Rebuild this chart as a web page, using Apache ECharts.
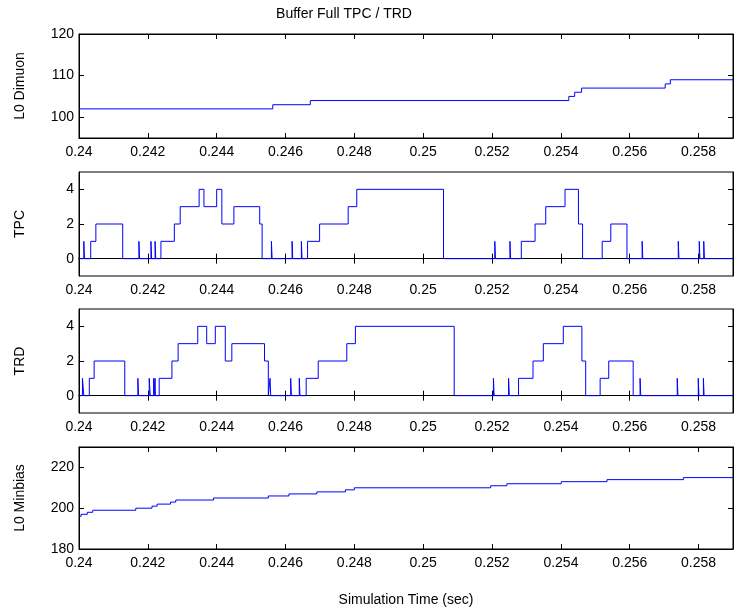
<!DOCTYPE html>
<html>
<head>
<meta charset="utf-8">
<script src="https://cdn.jsdelivr.net/npm/echarts@6/dist/echarts.min.js"></script>
<style>
  html, body { margin: 0; padding: 0; background: #fff; }
  #chart { width: 735px; height: 608px; }
</style>
</head>
<body>
<div id="chart"></div>
<script>
// x ticks shared by every panel
let xTicks = [0.24, 0.242, 0.244, 0.246, 0.248, 0.25, 0.252, 0.254, 0.256, 0.258]

// L0 Dimuon
let dimuonT = [0.24, 0.24563, 0.24672, 0.25423, 0.25440, 0.25460, 0.25703, 0.25718, 0.259]
let dimuonV = [102, 103, 104, 105, 106, 107, 108, 109, 109]
let dimuonTicks = [100, 110, 120]

// TPC
let tpcT = [0.24, 0.24014, 0.24016, 0.24034, 0.24049, 0.24127, 0.24174, 0.24176, 0.24209, 0.24211,
  0.24221, 0.24223, 0.24238, 0.24277, 0.24294, 0.24349, 0.24363, 0.24400, 0.24415, 0.24450,
  0.24525, 0.24532, 0.24559, 0.24561, 0.24619, 0.24621, 0.24646, 0.24648, 0.24664, 0.24699,
  0.24782, 0.24807, 0.25059, 0.25208, 0.25210, 0.25252, 0.25254, 0.25285, 0.25325, 0.25356,
  0.25412, 0.25451, 0.25463, 0.25520, 0.25545, 0.25592, 0.25636, 0.25638, 0.25741, 0.25743,
  0.25802, 0.25804, 0.25815, 0.25817, 0.259]
let tpcV = [0, 1, 0, 1, 2, 0, 1, 0, 1, 0,
  1, 0, 1, 2, 3, 4, 3, 4, 2, 3,
  2, 0, 1, 0, 1, 0, 1, 0, 1, 2,
  3, 4, 0, 1, 0, 1, 0, 1, 2, 3,
  4, 2, 0, 1, 2, 0, 1, 0, 1, 0,
  1, 0, 1, 0, 0]

// TRD
let trdT = [0.24, 0.24010, 0.24014, 0.24030, 0.24044, 0.24133, 0.24171, 0.24173, 0.24204, 0.24207,
  0.24217, 0.24218, 0.24221, 0.24222, 0.24233, 0.24270, 0.24288, 0.24345, 0.24371, 0.24396,
  0.24425, 0.24444, 0.24539, 0.24550, 0.24555, 0.24557, 0.24615, 0.24617, 0.24640, 0.24642,
  0.24660, 0.24695, 0.24778, 0.24803, 0.25090, 0.25204, 0.25206, 0.25248, 0.25250, 0.25277,
  0.25319, 0.25349, 0.25407, 0.25461, 0.25472, 0.25514, 0.25539, 0.25610, 0.25630, 0.25632,
  0.25738, 0.25740, 0.25799, 0.25801, 0.25814, 0.25816, 0.259]
let trdV = [0, 1, 0, 1, 2, 0, 1, 0, 1, 0,
  1, 0, 1, 0, 1, 2, 3, 4, 3, 4,
  2, 3, 2, 0, 1, 0, 1, 0, 1, 0,
  1, 2, 3, 4, 0, 1, 0, 1, 0, 1,
  2, 3, 4, 2, 0, 1, 2, 0, 1, 0,
  1, 0, 1, 0, 1, 0, 0]
let bufTicks = [0, 2, 4]

// L0 Minbias
let mbT = [0.24, 0.24006, 0.24024, 0.24040, 0.24165, 0.24212, 0.24227, 0.24266, 0.24281, 0.24391,
  0.24550, 0.24610, 0.24691, 0.24774, 0.24800, 0.25196, 0.25243, 0.25401, 0.25534, 0.25756, 0.259]
let mbV = [196, 197, 198, 199, 200, 201, 202, 203, 204, 205,
  206, 207, 208, 209, 210, 211, 212, 213, 214, 215, 215]
let mbTicks = [180, 200, 220]

let font = 'Liberation Sans, Arial, Helvetica, sans-serif'
let panels = [
  { name: 'L0 Dimuon', t: dimuonT, v: dimuonV, min: 95, max: 120, ticks: dimuonTicks, top: 34 },
  { name: 'TPC', t: tpcT, v: tpcV, min: -1, max: 5, ticks: bufTicks, top: 172 },
  { name: 'TRD', t: trdT, v: trdV, min: -1, max: 5, ticks: bufTicks, top: 309 },
  { name: 'L0 Minbias', t: mbT, v: mbV, min: 180, max: 230, ticks: mbTicks, top: 447 }
]

function pairs(t, v) {
  return t.map(function (x, i) { return [x, v[i]] })
}

let grid = []
let xAxis = []
let yAxis = []
let series = []
panels.forEach(function (p, k) {
  grid.push({ left: 79, right: 2, top: p.top, height: 104, show: true, borderColor: '#000', borderWidth: 1 })
  let last = k === panels.length - 1
  let xBase = {
    type: 'value', gridIndex: k, min: 0.24, max: 0.259,
    axisLine: { show: true, lineStyle: { color: '#000', width: 1 } },
    axisTick: { show: true, inside: true, length: 5, customValues: xTicks, lineStyle: { color: '#000' } },
    splitLine: { show: false }
  }
  xAxis.push(Object.assign({}, xBase, {
    position: 'bottom',
    axisLabel: {
      show: true, customValues: xTicks, color: '#000', fontSize: 14, fontFamily: font, margin: 7,
      formatter: function (val) { return String(Number(val.toFixed(3))) }
    },
    name: last ? 'Simulation Time (sec)' : '',
    nameLocation: 'middle', nameGap: 44,
    nameTextStyle: { color: '#000', fontSize: 14, fontFamily: font }
  }))
  xAxis.push(Object.assign({}, xBase, { position: 'top', axisLabel: { show: false } }))
  let yBase = {
    type: 'value', gridIndex: k, min: p.min, max: p.max,
    axisLine: { show: true, lineStyle: { color: '#000', width: 1 } },
    axisTick: { show: true, inside: true, length: 5, customValues: p.ticks, lineStyle: { color: '#000' } },
    splitLine: { show: false }
  }
  yAxis.push(Object.assign({}, yBase, {
    position: 'left',
    axisLabel: { show: true, customValues: p.ticks, color: '#000', fontSize: 14, fontFamily: font, margin: 5 },
    name: p.name, nameLocation: 'middle', nameRotate: 90, nameGap: 52,
    nameTextStyle: { color: '#000', fontSize: 14, fontFamily: font }
  }))
  yAxis.push(Object.assign({}, yBase, { position: 'right', axisLabel: { show: false } }))
  series.push({
    type: 'line', xAxisIndex: 2 * k, yAxisIndex: 2 * k,
    data: pairs(p.t, p.v), step: 'end', showSymbol: false, symbol: 'none',
    lineStyle: { color: '#0000ff', width: 1 }, animation: false
  })
})

let myChart = echarts.init(document.getElementById('chart'))
myChart.setOption({
  backgroundColor: '#fff',
  animation: false,
  graphic: [{
    type: 'text', x: 344, y: 14,
    style: { text: 'Buffer Full TPC / TRD', fill: '#000', font: '14px ' + font, textAlign: 'center', textVerticalAlign: 'middle' }
  }],
  grid: grid,
  xAxis: xAxis,
  yAxis: yAxis,
  series: series
})
</script>
</body>
</html>
